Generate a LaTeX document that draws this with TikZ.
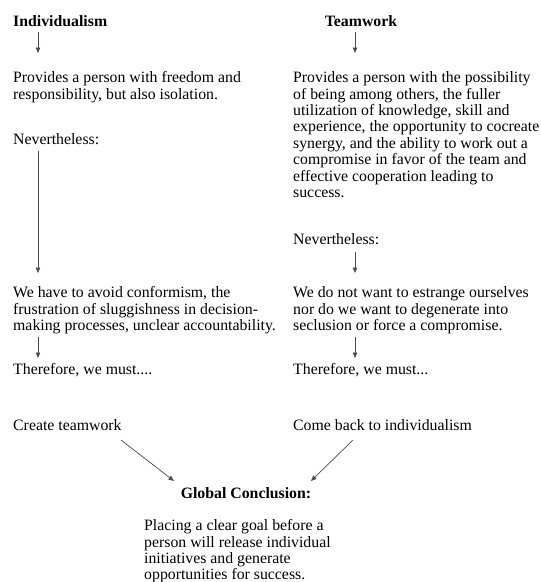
\documentclass[tikz,border=0pt]{standalone}
\usepackage{fontspec}
\setmainfont{Liberation Serif}
\usetikzlibrary{arrows.meta}
\newcommand{\fstrut}{\rule{0pt}{12pt}}
\begin{document}
\begin{tikzpicture}[x=1pt,y=1pt,
  txt/.style={inner sep=0pt, align=left, font=\fontsize{15.8}{16.4}\selectfont},
  hd/.style={inner sep=0pt, font=\bfseries\fontsize{15.8}{16.4}\selectfont},
  arr/.style={draw=black!70, line width=0.7pt, -{Triangle[length=5.5pt,width=4.5pt]}}]
\useasboundingbox (0,0) rectangle (541,-582);
% left column
\node[hd, anchor=base west] (ind) at (13,-26.5) {Individualism};
\node[txt, anchor=north west] (lp1) at (13,-70.5) {\fstrut Provides a person with freedom and\\responsibility, but also isolation.};
\node[txt, anchor=base west] (lnev) at (13,-144.5) {Nevertheless:};
\node[txt, anchor=north west] (lp2) at (13,-285.5) {\fstrut We have to avoid conformism, the\\frustration of sluggishness in decision-\\making processes, unclear accountability.};
\node[txt, anchor=base west] (lthe) at (13,-374.5) {Therefore, we must....};
\node[txt, anchor=base west] (create) at (13,-430.5) {Create teamwork};
% right column
\node[hd, anchor=base] (team) at (361,-26.5) {Teamwork};
\node[txt, anchor=north west] (rp1) at (293,-70.5) {\fstrut Provides a person with the possibility\\of being among others, the fuller\\utilization of knowledge, skill and\\experience, the opportunity to cocreate\\synergy, and the ability to work out a\\compromise in favor of the team and\\effective cooperation leading to\\success.};
\node[txt, anchor=base west] (rnev) at (293,-244.5) {Nevertheless:};
\node[txt, anchor=north west] (rp2) at (293,-285.5) {\fstrut We do not want to estrange ourselves\\nor do we want to degenerate into\\seclusion or force a compromise.};
\node[txt, anchor=base west] (rthe) at (293,-374.5) {Therefore, we must...};
\node[txt, anchor=base west] (back) at (293,-430.5) {Come back to individualism};
% conclusion
\node[hd, anchor=base] (glob) at (246,-498.5) {Global Conclusion:};
\node[txt, anchor=north west] (conc) at (144,-518.5) {\fstrut Placing a clear goal before a\\person will release individual\\initiatives and generate\\opportunities for success.};
% arrows
\coordinate (a1s) at (38,-32); \coordinate (a1e) at (38,-53);
\coordinate (a2s) at (38,-151); \coordinate (a2e) at (38,-273);
\coordinate (a3s) at (38,-337); \coordinate (a3e) at (38,-358);
\coordinate (b1s) at (355,-32); \coordinate (b1e) at (355,-53);
\coordinate (b2s) at (355,-252); \coordinate (b2e) at (355,-273);
\coordinate (b3s) at (355,-337); \coordinate (b3e) at (355,-358);
\coordinate (c1s) at (121,-440); \coordinate (c1e) at (174,-481);
\coordinate (c2s) at (353,-440); \coordinate (c2e) at (311,-481);
\draw[arr] (a1s) -- (a1e);
\draw[arr] (a2s) -- (a2e);
\draw[arr] (a3s) -- (a3e);
\draw[arr] (b1s) -- (b1e);
\draw[arr] (b2s) -- (b2e);
\draw[arr] (b3s) -- (b3e);
\draw[arr] (c1s) -- (c1e);
\draw[arr] (c2s) -- (c2e);
\end{tikzpicture}
\end{document}
